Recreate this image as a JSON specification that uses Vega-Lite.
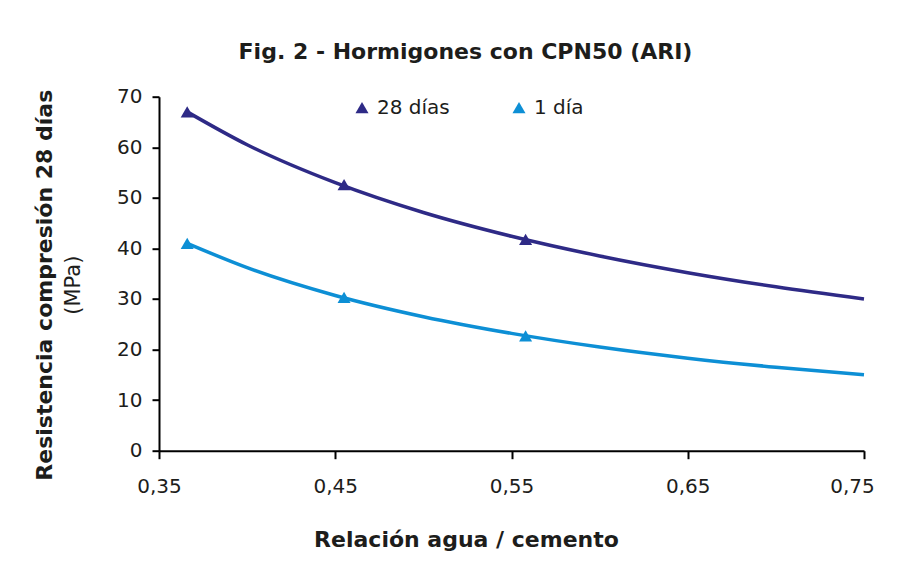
{
  "$schema": "https://vega.github.io/schema/vega-lite/v6.json",
  "width": 705,
  "height": 354,
  "autosize": {"type": "none"},
  "padding": {"left": 159, "top": 96.7, "right": 43, "bottom": 117.3},
  "background": "white",
  "config": {
    "view": {"stroke": null},
    "font": "DejaVu Sans",
    "axis": {"grid": false, "domainColor": "#000000", "tickColor": "#000000", "labelColor": "#1d1d1b", "titleColor": "#1d1d1b", "labelFont": "DejaVu Sans", "titleFont": "DejaVu Sans"},
    "legend": {"labelFont": "DejaVu Sans", "labelFontSize": 20, "labelColor": "#1d1d1b"}
  },
  "title": {
    "text": "Fig. 2 - Hormigones con CPN50 (ARI)",
    "font": "DejaVu Sans",
    "fontSize": 22,
    "fontWeight": "bold",
    "color": "#1d1d1b",
    "anchor": "middle",
    "frame": "group",
    "dx": -46,
    "offset": 6,
    "baseline": "alphabetic"
  },
  "datasets": {
    "curves": [
      {"serie": "28 días", "wc": 0.366, "mpa": 67.0},
      {"serie": "28 días", "wc": 0.40, "mpa": 60.5},
      {"serie": "28 días", "wc": 0.45, "mpa": 53.0},
      {"serie": "28 días", "wc": 0.50, "mpa": 47.1},
      {"serie": "28 días", "wc": 0.55, "mpa": 42.4},
      {"serie": "28 días", "wc": 0.60, "mpa": 38.5},
      {"serie": "28 días", "wc": 0.65, "mpa": 35.2},
      {"serie": "28 días", "wc": 0.70, "mpa": 32.4},
      {"serie": "28 días", "wc": 0.75, "mpa": 30.0},
      {"serie": "1 día", "wc": 0.366, "mpa": 41.0},
      {"serie": "1 día", "wc": 0.40, "mpa": 36.2},
      {"serie": "1 día", "wc": 0.45, "mpa": 30.7},
      {"serie": "1 día", "wc": 0.50, "mpa": 26.5},
      {"serie": "1 día", "wc": 0.55, "mpa": 23.2},
      {"serie": "1 día", "wc": 0.60, "mpa": 20.5},
      {"serie": "1 día", "wc": 0.65, "mpa": 18.3},
      {"serie": "1 día", "wc": 0.70, "mpa": 16.5},
      {"serie": "1 día", "wc": 0.75, "mpa": 15.0}
    ],
    "points": [
      {"serie": "28 días", "wc": 0.366, "mpa": 67.0},
      {"serie": "28 días", "wc": 0.455, "mpa": 52.6},
      {"serie": "28 días", "wc": 0.558, "mpa": 41.8},
      {"serie": "1 día", "wc": 0.366, "mpa": 41.0},
      {"serie": "1 día", "wc": 0.455, "mpa": 30.3},
      {"serie": "1 día", "wc": 0.558, "mpa": 22.7}
    ]
  },
  "layer": [
    {
      "data": {"name": "curves"},
      "transform": [{"filter": "datum.serie === '28 días'"}],
      "mark": {"type": "line", "strokeWidth": 3.5, "interpolate": "monotone", "color": "#2e2a86"},
      "encoding": {
        "x": {
          "field": "wc", "type": "quantitative",
          "scale": {"domain": [0.35, 0.75], "nice": false, "zero": false},
          "axis": {
            "values": [0.35, 0.45, 0.55, 0.65, 0.75],
            "labelExpr": "replace(format(datum.value, '.2f'), '.', ',')",
            "labelFontSize": 20,
            "labelPadding": 17.5,
            "labelFlush": false,
            "labelOffset": {"condition": {"test": "datum.value > 0.7", "value": -12}, "value": 0},
            "tickSize": 8, "tickWidth": 2, "domainWidth": 2,
            "title": "Relación agua / cemento",
            "titleFontSize": 22, "titleFontWeight": "bold",
            "titleX": 307, "titleY": 96, "titleBaseline": "alphabetic", "titleAlign": "center"
          }
        },
        "y": {
          "field": "mpa", "type": "quantitative",
          "scale": {"domain": [0, 70], "nice": false},
          "axis": {
            "orient": "left",
            "values": [0, 10, 20, 30, 40, 50, 60, 70],
            "labelFontSize": 20,
            "labelPadding": 10,
            "tickSize": 7, "tickWidth": 2, "domainWidth": 2,
            "title": "(MPa)",
            "titleFontSize": 21, "titleFontWeight": "normal",
            "titleX": -86, "titleY": 188, "titleAngle": -90,
            "titleAlign": "center", "titleBaseline": "middle"
          }
        }
      }
    },
    {
      "data": {"name": "curves"},
      "transform": [{"filter": "datum.serie === '1 día'"}],
      "mark": {"type": "line", "strokeWidth": 3.5, "interpolate": "monotone", "color": "#0d8fd5"},
      "encoding": {
        "x": {"field": "wc", "type": "quantitative"},
        "y": {
          "field": "mpa", "type": "quantitative",
          "scale": {"domain": [0, 70], "nice": false},
          "axis": {
            "orient": "left",
            "labels": false, "ticks": false, "domain": false, "grid": false,
            "title": "Resistencia compresión 28 días",
            "titleFontSize": 22, "titleFontWeight": "bold",
            "titleX": -115, "titleY": 188, "titleAngle": -90,
            "titleAlign": "center", "titleBaseline": "middle"
          }
        }
      }
    },
    {
      "data": {"name": "points"},
      "mark": {"type": "point", "shape": "triangle-up", "filled": true, "opacity": 1, "size": 170},
      "encoding": {
        "x": {"field": "wc", "type": "quantitative"},
        "y": {
          "field": "mpa", "type": "quantitative",
          "scale": {"domain": [0, 70], "nice": false},
          "axis": null
        },
        "color": {
          "field": "serie", "type": "nominal",
          "scale": {"domain": ["28 días", "1 día"], "range": ["#2e2a86", "#0d8fd5"]},
          "legend": {
            "title": null,
            "orient": "none",
            "legendX": 193,
            "legendY": 1,
            "direction": "horizontal",
            "symbolType": "triangle-up",
            "symbolSize": 170,
            "labelOffset": 5,
            "columnPadding": 59,
            "padding": 0
          }
        }
      }
    }
  ],
  "resolve": {"axis": {"y": "independent"}}
}
